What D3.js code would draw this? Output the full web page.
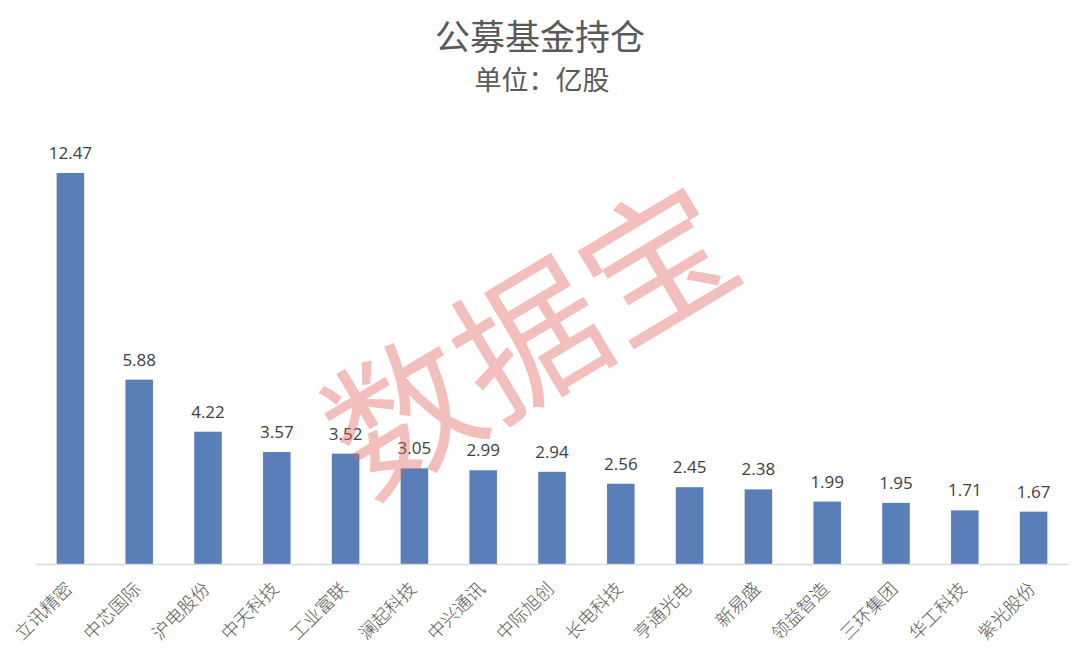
<!DOCTYPE html>
<html>
<head>
<meta charset="utf-8">
<script src="https://cdn.jsdelivr.net/npm/d3@7"></script>
<style>
html,body{margin:0;padding:0;background:#fff;}
svg{display:block;}
</style>
</head>
<body>
<svg id="chart" width="1080" height="651"></svg>
<script>
const categories = ["立讯精密","中芯国际","沪电股份","中天科技","工业富联","澜起科技","中兴通讯","中际旭创","长电科技","亨通光电","新易盛","领益智造","三环集团","华工科技","紫光股份"];
const values = [12.47,5.88,4.22,3.57,3.52,3.05,2.99,2.94,2.56,2.45,2.38,1.99,1.95,1.71,1.67];
const titleText = "公募基金持仓";
const subtitleText = "单位：亿股";
const watermarkText = "数据宝";

const svg = d3.select("#chart");
const W = 1080, H = 651;
const margin = {left:36, right:12, top:173, bottom:87};
const baseY = H - margin.bottom; // 564

const x = d3.scaleBand().domain(categories).range([margin.left, W - margin.right]).paddingInner(0.6).paddingOuter(0.3);
const y = d3.scaleLinear().domain([0, 12.47]).range([baseY, margin.top]);

svg.append("rect").attr("width",W).attr("height",H).attr("fill","#fff");

// title
svg.append("text").attr("x",540).attr("y",50).attr("text-anchor","middle")
  .attr("font-family","'Noto Sans CJK SC', sans-serif").attr("font-size",35).attr("font-weight",400)
  .attr("fill","#595959").text(titleText);
svg.append("text").attr("x",542).attr("y",90).attr("text-anchor","middle")
  .attr("font-family","'Noto Sans CJK SC', sans-serif").attr("font-size",27)
  .attr("fill","#595959").text(subtitleText);

// bars
const data = categories.map((c,i)=>({c, v: values[i]}));
svg.append("g").selectAll("rect").data(data).join("rect")
  .attr("x", d=>x(d.c)).attr("width", x.bandwidth())
  .attr("y", d=>y(d.v)).attr("height", d=>baseY - y(d.v))
  .attr("fill","#5a7fb8");

// value labels
svg.append("g").selectAll("text").data(data).join("text")
  .attr("x", d=>x(d.c)+x.bandwidth()/2).attr("y", d=>y(d.v)-14)
  .attr("text-anchor","middle")
  .attr("font-family","'Open Sans', sans-serif").attr("font-size",17)
  .attr("fill","#404040").text(d=>d.v.toFixed(2));

// axis
const axis = d3.axisBottom(x).tickSize(0).tickPadding(0);
const ag = svg.append("g").attr("transform",`translate(0,${baseY})`).call(axis);
ag.select(".domain").attr("stroke","#d9d9d9").attr("stroke-width",1.5);
ag.selectAll(".tick text")
  .attr("font-family","'Noto Sans CJK SC', serif").attr("font-size",18).attr("font-weight",300)
  .attr("fill","#595959")
  .attr("text-anchor","end")
  .attr("dy",null)
  .attr("y",0)
  .attr("transform","translate(3,26) rotate(-45)");

// watermark
svg.append("text")
  .attr("transform","translate(558,386) rotate(-31)")
  .attr("text-anchor","middle")
  .attr("font-family","'Noto Sans CJK SC', sans-serif").attr("font-size",148)
  .attr("fill","rgb(222,95,87)").attr("fill-opacity",0.4)
  .text(watermarkText);
</script>
</body>
</html>
